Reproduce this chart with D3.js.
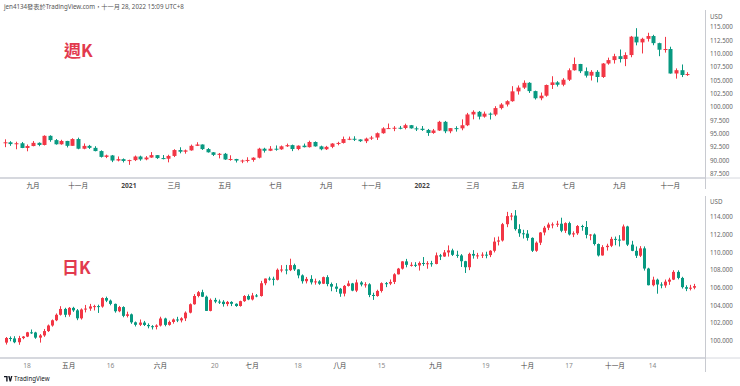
<!DOCTYPE html>
<html>
<head>
<meta charset="utf-8">
<script src="https://cdn.jsdelivr.net/npm/d3@7"></script>
<style>
body { margin: 0; background: #fff; }
svg { display: block; font-family: "Noto Sans", "Noto Sans CJK TC", sans-serif; }
</style>
</head>
<body>
<script>
// weekly candles (週K), one per week starting Monday 2020-08-03
const weekOpen = [
  93.35,93.43,93.10,93.25,92.37,92.73,93.33,92.93,94.64,93.84,
  93.06,93.68,92.77,94.04,92.23,92.76,92.39,91.79,90.70,90.97,
  90.02,90.28,89.94,90.10,90.77,90.24,90.58,91.03,90.48,90.36,
  90.88,91.98,91.67,91.92,92.77,93.02,92.16,91.56,91.08,91.28,
  90.22,90.31,90.01,90.03,90.13,90.55,92.23,91.85,92.23,92.12,
  92.68,92.90,92.17,92.80,92.52,93.49,92.67,92.13,92.58,93.20,
  93.31,94.04,94.09,93.96,93.64,94.12,94.32,95.13,96.03,96.09,
  96.15,96.10,96.63,96.04,95.97,95.74,95.18,95.64,97.26,95.49,
  96.08,96.04,96.62,98.64,99.13,98.23,98.79,98.62,99.83,100.50,
  101.12,102.96,103.66,104.56,103.01,101.67,102.15,104.15,104.64,104.20,
  105.14,106.91,108.08,106.73,105.90,106.61,105.65,108.17,108.81,109.54,
  109.01,109.75,113.19,112.12,112.79,113.31,111.98,110.75,110.88,106.30,
  106.92,106.02
];
const weekHigh = [
  93.99,93.64,93.54,93.49,93.02,93.66,93.42,94.74,94.74,94.04,
  93.90,93.70,94.19,94.30,93.21,92.94,92.70,91.92,91.12,91.06,
  90.78,90.41,90.18,90.95,90.93,90.85,91.60,91.05,91.05,91.10,
  92.14,92.50,92.08,93.00,93.44,93.04,92.35,91.60,91.43,91.44,
  91.00,90.34,90.20,90.63,90.63,92.40,92.41,92.72,92.84,92.83,
  93.19,93.00,92.85,93.19,93.73,93.60,92.80,92.76,93.27,93.53,
  94.50,94.50,94.56,93.99,94.30,94.63,95.27,96.25,96.94,96.46,
  96.49,96.91,96.67,96.38,96.47,95.93,95.93,97.44,97.43,96.09,
  96.43,97.72,98.93,99.42,99.29,99.18,99.00,100.19,100.76,101.30,
  103.93,104.07,105.01,104.68,103.10,102.74,104.24,105.79,104.87,105.43,
  107.26,109.29,108.10,107.43,106.93,106.93,108.25,109.27,109.99,110.79,
  110.26,113.33,114.78,112.99,113.92,113.54,112.06,113.15,111.31,107.26,
  107.99,106.55
];
const weekLow = [
  92.52,92.77,92.13,92.34,91.75,92.68,92.70,92.84,93.53,92.99,
  92.98,92.47,92.77,92.13,92.13,92.18,91.74,90.58,90.47,89.72,
  89.86,89.66,89.21,89.92,89.98,90.07,90.52,90.32,90.24,89.68,
  90.67,91.37,91.30,91.86,92.73,92.00,91.50,90.86,90.42,90.14,
  89.98,89.65,89.53,89.66,89.80,90.42,91.51,91.78,91.86,92.02,
  92.56,91.78,91.95,92.47,92.45,92.62,91.94,91.99,92.33,92.87,
  93.20,93.84,93.67,93.50,93.28,93.87,93.87,95.03,95.99,95.51,
  95.86,95.85,95.99,95.54,95.56,94.63,95.02,95.56,95.14,95.13,
  95.43,95.68,96.46,97.73,97.71,98.04,97.69,98.33,99.57,100.13,
  101.02,102.35,103.41,102.66,101.43,101.30,101.96,103.41,103.86,103.91,
  104.90,106.84,106.38,105.54,104.99,104.64,105.47,107.95,108.16,108.36,
  107.68,109.34,111.57,110.05,112.28,111.59,109.54,110.21,106.28,105.34,
  105.63,105.85
];
const weekClose = [
  93.43,93.10,93.25,92.37,92.73,93.33,92.93,94.64,93.84,93.06,
  93.68,92.77,94.04,92.23,92.76,92.39,91.79,90.70,90.97,90.02,
  90.28,89.94,90.10,90.77,90.24,90.58,91.03,90.48,90.36,90.88,
  91.98,91.67,91.92,92.77,93.02,92.16,91.56,91.08,91.28,90.22,
  90.31,90.01,90.03,90.13,90.55,92.23,91.85,92.23,92.12,92.68,
  92.90,92.17,92.80,92.52,93.49,92.67,92.13,92.58,93.20,93.31,
  94.04,94.09,93.96,93.64,94.12,94.32,95.13,96.03,96.09,96.15,
  96.10,96.63,96.04,95.97,95.74,95.18,95.64,97.26,95.49,96.08,
  96.04,96.62,98.64,99.13,98.23,98.79,98.62,99.83,100.50,101.12,
  102.96,103.66,104.56,103.01,101.67,102.15,104.15,104.64,104.20,105.14,
  106.91,108.08,106.73,105.90,106.61,105.65,108.17,108.81,109.54,109.01,
  109.75,113.19,112.12,112.79,113.31,111.98,110.75,110.88,106.30,106.92,
  106.02,106.20
];

// daily candles (日K), weekdays from 2022-04-11 to 2022-11-28, one row per week
const dayOpen = [
  99.82,100.34,100.29,99.86,100.33,  100.50,100.98,100.96,100.38,100.63,
  101.12,101.75,102.34,102.96,103.62, 102.96,103.74,103.46,102.56,103.56,
  103.66,103.90,103.94,103.89,104.85, 104.56,104.19,103.36,103.83,102.84,
  103.01,102.11,101.83,102.08,101.81, 101.67,101.60,101.75,102.54,101.82,
  102.15,102.43,102.33,102.56,103.20, 104.15,105.08,105.51,105.00,103.40,
  104.64,104.45,104.43,104.17,104.41, 104.20,103.95,104.50,105.08,104.69,
  105.14,105.08,106.52,107.05,107.03, 106.91,108.04,108.07,108.00,108.57,
  108.08,107.41,106.75,107.01,106.62, 106.73,106.47,107.21,106.43,106.14,
  105.90,105.35,106.22,106.50,105.69, 106.61,106.38,106.40,105.20,105.08,
  105.65,106.53,106.48,106.67,107.53, 108.17,108.99,108.60,108.60,108.53,
  108.81,108.77,108.78,108.70,109.67, 109.54,110.00,110.23,109.73,109.66,
  109.01,108.33,109.83,109.64,109.67, 109.75,109.70,110.19,111.22,111.35,
  113.19,114.10,114.16,112.63,112.16, 112.12,111.64,110.19,111.10,112.25,
  112.79,113.15,113.17,113.24,112.45, 113.31,112.03,112.16,112.98,112.87,
  111.98,112.02,110.95,109.66,110.60, 110.75,111.53,111.45,111.35,112.93,
  110.88,110.18,109.63,110.46,108.18, 106.30,106.92,106.38,106.27,106.70,
  106.93,107.80,107.12,106.08,105.90, 106.02
];
const dayHigh = [
  100.45,100.52,100.54,100.58,100.56, 101.03,101.30,101.04,100.78,101.36,
  101.86,102.43,103.11,103.93,103.75, 103.83,103.86,103.61,103.68,104.07,
  104.19,104.09,104.10,104.93,105.01, 104.68,104.22,103.96,103.92,103.31,
  103.10,102.20,102.43,102.27,101.99, 101.79,101.88,102.74,102.63,102.30,
  102.54,102.73,102.68,103.34,104.24, 105.29,105.65,105.79,105.13,104.80,
  104.87,104.68,104.61,104.52,104.49, 104.25,104.55,105.18,105.26,105.43,
  105.30,106.79,107.05,107.26,107.26, 108.19,108.56,108.59,109.29,108.73,
  108.10,107.52,107.23,107.43,107.04, 106.87,107.27,107.43,106.60,106.53,
  105.99,106.32,106.81,106.56,106.93, 106.76,106.64,106.52,105.45,105.79,
  106.62,106.66,106.95,107.65,108.25, 109.00,109.27,108.89,108.90,108.98,
  109.48,109.01,109.05,109.99,109.83, 110.27,110.79,110.42,110.19,109.81,
  109.05,109.97,110.26,109.95,110.01, 110.08,110.25,111.70,111.79,113.33,
  114.58,114.45,114.78,113.18,112.56, 112.52,111.70,111.24,112.30,112.99,
  113.36,113.38,113.57,113.92,113.40, 113.47,112.38,113.09,113.12,113.54,
  112.06,112.14,111.01,110.82,110.98, 111.76,111.79,111.95,113.15,113.01,
  111.31,110.67,110.71,110.68,108.27, 107.26,107.04,106.63,106.94,107.14,
  107.99,107.98,107.25,106.29,106.34, 106.45
];
const dayLow = [
  99.60,99.97,99.75,99.57,100.20,     100.44,100.80,100.25,99.82,100.47,
  101.02,101.62,102.24,102.87,102.69, 102.75,103.29,102.35,102.42,103.23,
  103.41,103.45,103.17,103.76,104.39, 104.03,103.20,103.25,102.68,102.66,
  101.94,101.64,101.69,101.69,101.43, 101.30,101.31,101.64,101.66,101.73,
  101.96,102.13,102.10,102.25,103.12, 104.10,104.93,104.96,103.39,103.35,
  104.27,104.18,103.88,103.93,103.94, 103.86,103.88,104.42,104.61,104.58,
  104.94,105.01,106.30,106.82,106.27, 106.84,107.75,107.53,107.89,107.91,
  107.08,106.48,106.50,106.38,106.36, 106.34,106.43,106.18,105.62,105.54,
  104.99,105.04,106.15,105.62,105.52, 106.17,106.03,104.95,104.64,105.00,
  105.47,106.08,106.31,106.43,107.51, 108.07,108.32,108.40,108.35,107.95,
  108.48,108.16,108.39,108.66,109.14, 109.50,109.53,109.60,109.39,108.36,
  107.68,108.00,109.30,109.28,109.37, 109.34,109.47,110.00,110.79,111.23,
  112.85,113.63,112.46,111.76,111.57, 111.33,110.05,110.07,110.83,111.93,
  112.52,112.72,112.88,112.28,112.20, 111.91,111.73,111.98,112.45,111.59,
  111.38,110.78,109.54,109.64,110.21, 110.60,110.81,110.67,111.35,110.72,
  110.14,109.37,109.48,107.95,106.28, 106.17,105.34,105.95,106.01,106.34,
  106.88,106.96,105.92,105.63,105.71, 105.84
];
const dayClose = [
  100.34,100.29,99.86,100.33,100.50,  100.98,100.96,100.38,100.63,101.12,
  101.75,102.34,102.96,103.62,102.96, 103.74,103.46,102.56,103.56,103.66,
  103.90,103.94,103.89,104.85,104.56, 104.19,103.36,103.83,102.84,103.01,
  102.11,101.83,102.08,101.81,101.67, 101.60,101.75,102.54,101.82,102.15,
  102.43,102.33,102.56,103.20,104.15, 105.08,105.51,105.00,103.40,104.64,
  104.45,104.43,104.17,104.41,104.20, 103.95,104.50,105.08,104.69,105.14,
  105.08,106.52,107.05,107.03,106.91, 108.04,108.07,108.00,108.57,108.08,
  107.41,106.75,107.01,106.62,106.73, 106.47,107.21,106.43,106.14,105.90,
  105.35,106.22,106.50,105.69,106.61, 106.38,106.40,105.20,105.08,105.65,
  106.53,106.48,106.67,107.53,108.17, 108.99,108.60,108.60,108.53,108.81,
  108.77,108.78,108.70,109.67,109.54, 110.00,110.23,109.73,109.66,109.01,
  108.33,109.83,109.64,109.67,109.75, 109.70,110.19,111.22,111.35,113.19,
  114.10,114.16,112.63,112.16,112.12, 111.64,110.19,111.10,112.25,112.79,
  113.15,113.17,113.24,112.45,113.31, 112.03,112.16,112.98,112.87,111.98,
  112.02,110.95,109.66,110.60,110.75, 111.53,111.45,111.35,112.93,110.88,
  110.18,109.63,110.46,108.18,106.30, 106.92,106.38,106.27,106.70,106.93,
  107.80,107.12,106.08,105.90,106.02, 106.20
];

// time-axis labels
const topTickDates  = ["2020-09-07","2020-11-02","2021-01-04","2021-03-01","2021-05-03","2021-07-05","2021-09-06","2021-11-01","2022-01-03","2022-03-07","2022-05-02","2022-07-04","2022-09-05","2022-11-07"];
const topTickLabels = ["九月","十一月","2021","三月","五月","七月","九月","十一月","2022","三月","五月","七月","九月","十一月"];
const botTickDates  = ["2022-04-18","2022-05-02","2022-05-16","2022-06-01","2022-06-20","2022-07-01","2022-07-18","2022-08-01","2022-08-15","2022-09-01","2022-09-19","2022-10-03","2022-10-17","2022-11-01","2022-11-14"];
const botTickLabels = ["18","五月","16","六月","20","七月","18","八月","15","九月","19","十月","17","十一月","14"];

// price-axis labels
const topPriceTicks = [115, 112.5, 110, 107.5, 105, 102.5, 100, 97.5, 95, 92.5, 90, 87.5];
const botPriceTicks = [114, 112, 110, 108, 106, 104, 102, 100];

const W = 740, H = 386;
const axisX = 705;
const UP = '#f23645', DOWN = '#089981';
const fmtDay = d3.timeFormat('%Y-%m-%d');

const svg = d3.select('body').append('svg').attr('width', W).attr('height', H);

// dates for the candles
const weekDates = d3.timeMonday.range(new Date(2020, 7, 3), new Date(2022, 10, 29)).map(fmtDay);
const dayDates = d3.timeDay.range(new Date(2022, 3, 11), new Date(2022, 10, 29))
  .filter(d => d.getDay() !== 0 && d.getDay() !== 6).map(fmtDay);

function makeRows(dates, o, h, l, c) {
  return dates.map((d, i) => ({date: d, i: i, o: o[i], h: h[i], l: l[i], c: c[i]}));
}
const weeks = makeRows(weekDates, weekOpen, weekHigh, weekLow, weekClose);
const days = makeRows(dayDates, dayOpen, dayHigh, dayLow, dayClose);

// header
svg.append('text').attr('x', 4).attr('y', 9).attr('font-size', 6.2).attr('fill', '#555')
  .text('jen4134發表於TradingView.com，十一月 28, 2022 15:09 UTC+8');

function pane(rows, opt) {
  const x = d3.scaleLinear().domain([0, rows.length - 1]).range(opt.xr);
  const y = d3.scaleLinear().domain(opt.yd).range(opt.yr);
  const g = svg.append('g');

  const c = g.selectAll('g.candle').data(rows).join('g').attr('class', 'candle')
    .attr('fill', d => d.c >= d.o ? UP : DOWN)
    .attr('stroke', d => d.c >= d.o ? UP : DOWN);
  c.append('line')
    .attr('x1', d => Math.round(x(d.i)) + 0.5).attr('x2', d => Math.round(x(d.i)) + 0.5)
    .attr('y1', d => y(d.h)).attr('y2', d => y(d.l)).attr('stroke-width', 1);
  c.append('rect')
    .attr('x', d => Math.round(x(d.i)) + 0.5 - opt.bw / 2).attr('width', opt.bw)
    .attr('y', d => y(Math.max(d.o, d.c)))
    .attr('height', d => Math.max(1, Math.abs(y(d.o) - y(d.c))))
    .attr('stroke', 'none');

  // bottom border of the pane
  svg.append('line').attr('x1', 0).attr('x2', axisX).attr('y1', opt.bottom).attr('y2', opt.bottom)
    .attr('stroke', '#d6d8de').attr('stroke-width', 2);
  svg.append('line').attr('x1', axisX).attr('x2', W).attr('y1', opt.bottom).attr('y2', opt.bottom)
    .attr('stroke', '#d6d8de').attr('stroke-width', 1);

  // price axis
  const ya = svg.append('g').attr('font-size', 6.2).attr('fill', '#666');
  ya.selectAll('text.p').data(opt.prices).join('text').attr('class', 'p')
    .attr('x', axisX + 5).attr('y', d => y(d) + 2.2).text(d => d3.format('.3f')(d));
  ya.append('text').attr('x', axisX + 5).attr('y', opt.usdY).text('USD');

  // time axis
  const idx = {};
  rows.forEach(r => { idx[r.date] = r.i; });
  const ta = svg.append('g').attr('font-size', 6.6).attr('text-anchor', 'middle');
  ta.selectAll('text').data(opt.tickDates).join('text')
    .attr('x', d => x(idx[d])).attr('y', opt.bottom + 9.5)
    .attr('font-weight', (d, i) => /^\d{4}$/.test(opt.tickLabels[i]) ? 'bold' : 'normal')
    .attr('fill', (d, i) => /^\d{1,2}$/.test(opt.tickLabels[i]) ? '#888' : '#444')
    .text((d, i) => opt.tickLabels[i]);

  svg.append('text').attr('x', opt.titleX).attr('y', opt.titleY)
    .attr('font-size', 17).attr('font-weight', 'bold').attr('fill', '#e23a4e')
    .attr('font-family', '"Noto Sans CJK TC", "Noto Sans", sans-serif')
    .text(opt.title);
}

pane(weeks, {
  xr: [4.8, 687.2], yd: [87.5, 115], yr: [174, 27], bw: 4, bottom: 178,
  prices: topPriceTicks, usdY: 19, tickDates: topTickDates, tickLabels: topTickLabels,
  title: '週K', titleX: 64, titleY: 57
});
pane(days, {
  xr: [6.15, 694.2], yd: [100, 114], yr: [341, 217], bw: 3, bottom: 358,
  prices: botPriceTicks, usdY: 204, tickDates: botTickDates, tickLabels: botTickLabels,
  title: '日K', titleX: 62, titleY: 274
});

// price-scale border
svg.append('line').attr('x1', axisX + 0.5).attr('x2', axisX + 0.5).attr('y1', 10).attr('y2', 189)
  .attr('stroke', '#c8cad0');
svg.append('line').attr('x1', axisX + 0.5).attr('x2', axisX + 0.5).attr('y1', 196).attr('y2', 372)
  .attr('stroke', '#c8cad0');

// TradingView mark
const tv = svg.append('g').attr('transform', 'translate(4,376)');
tv.append('path').attr('d', 'M0,0H3.6V5.4H2.2V1.3H0Z M4.2,0H5.6L6.3,3L7,0H8.4L7,5.4H5.6Z').attr('fill', '#131722');
tv.append('text').attr('x', 10).attr('y', 5.4).attr('font-size', 6.2).attr('fill', '#131722').text('TradingView');
</script>
</body>
</html>
